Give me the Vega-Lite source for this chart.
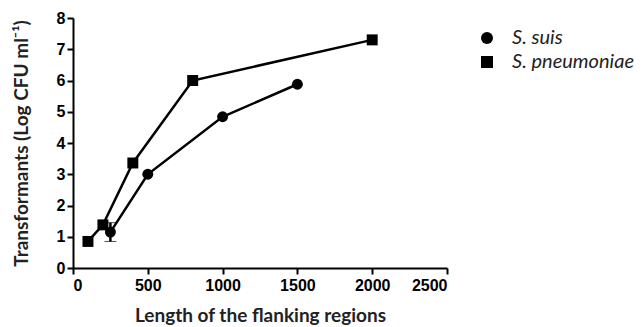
{
  "$schema": "https://vega.github.io/schema/vega-lite/v6.json",
  "autosize": {"type": "none"},
  "width": 374,
  "height": 250,
  "padding": {"left": 73, "top": 18, "right": 197, "bottom": 59},
  "background": "white",
  "config": {
    "view": {"stroke": null},
    "axis": {
      "domainColor": "black", "domainWidth": 2, "tickColor": "black", "tickWidth": 2, "tickSize": 6,
      "grid": false, "labelFont": "Liberation Sans", "labelFontWeight": "bold", "labelFontSize": 16, "labelColor": "black",
      "titleFont": "Lato", "titleFontWeight": "bold", "titleFontSize": 19, "titleColor": "#222"
    },
    "legend": {"labelFont": "Lato", "labelFontStyle": "italic", "labelFontSize": 20, "labelColor": "#222"}
  },
  "data": {"values": [
    {"series": "S. suis", "length": 250, "log": 1.15, "err": 0.3},
    {"series": "S. suis", "length": 500, "log": 3.0},
    {"series": "S. suis", "length": 1000, "log": 4.84},
    {"series": "S. suis", "length": 1500, "log": 5.88},
    {"series": "S. pneumoniae", "length": 100, "log": 0.85},
    {"series": "S. pneumoniae", "length": 200, "log": 1.38},
    {"series": "S. pneumoniae", "length": 400, "log": 3.36},
    {"series": "S. pneumoniae", "length": 800, "log": 6.0},
    {"series": "S. pneumoniae", "length": 2000, "log": 7.3}
  ]},
  "encoding": {
    "x": {"field": "length", "type": "quantitative", "scale": {"domain": [0, 2500]}, "axis": {"values": [0, 500, 1000, 1500, 2000, 2500], "format": "d", "title": "Length of the flanking regions", "titlePadding": 13, "labelPadding": 3}},
    "y": {"field": "log", "type": "quantitative", "scale": {"domain": [0, 8]}, "axis": {"values": [0,1,2,3,4,5,6,7,8], "labelOverlap": false, "title": "Transformants (Log CFU ml⁻¹)", "titlePadding": 25, "labelPadding": 2}}
  },
  "layer": [
    {
      "mark": {"type": "line", "color": "black", "strokeWidth": 2.5},
      "encoding": {"detail": {"field": "series"}}
    },
    {
      "mark": {"type": "errorbar", "ticks": {"size": 12, "strokeWidth": 2.5}, "rule": {"strokeWidth": 2.5}, "color": "black"},
      "transform": [{"filter": "isValid(datum.err)"}],
      "encoding": {
        "yError": {"field": "err"}
      }
    },
    {
      "mark": {"type": "point", "filled": true, "opacity": 1, "size": 120},
      "encoding": {
        "shape": {"field": "series", "type": "nominal", "scale": {"domain": ["S. suis", "S. pneumoniae"], "range": ["circle", "square"]}, "legend": null},
        "color": {"field": "series", "type": "nominal", "scale": {"domain": ["S. suis", "S. pneumoniae"], "range": ["black", "black"]},
          "legend": {"title": null, "orient": "none", "legendX": 404, "legendY": 10, "symbolFillColor": "black", "symbolStrokeColor": "black", "symbolStrokeWidth": 0, "symbolSize": 144, "labelOffset": 15, "rowPadding": 4,
            "symbolType": {"expr": "datum.value === 'S. suis' ? 'M-2.75,-0.2H2.75V0.2H-2.75Z M-0.75,0A0.75,0.75 0 1,1 0.75,0A0.75,0.75 0 1,1 -0.75,0Z' : 'M-2.75,-0.2H2.75V0.2H-2.75Z M-0.8,-0.8H0.8V0.8H-0.8Z'"},
            "encode": {"symbols": {"shape": {"value": {"expr": "datum.value === 'S. suis' ? 'M-2.75,-0.2H2.75V0.2H-2.75Z M-0.75,0A0.75,0.75 0 1,1 0.75,0A0.75,0.75 0 1,1 -0.75,0Z' : 'M-2.75,-0.2H2.75V0.2H-2.75Z M-0.8,-0.8H0.8V0.8H-0.8Z'"}}, "fill": {"value": "black"}, "strokeWidth": {"value": 0}}}}}
      }
    }
  ]
}
